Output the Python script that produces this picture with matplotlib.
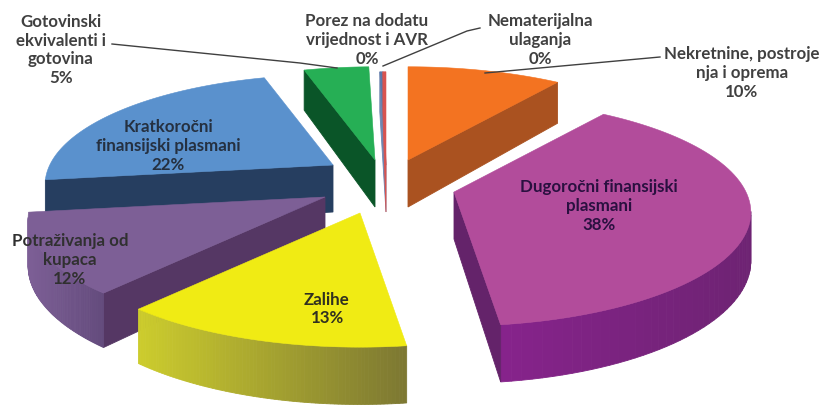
"""
Exploded 3D pie of asset structure, drawn by hand with polygons
(matplotlib has no real 3D pie).
"""

import numpy as np
import matplotlib
matplotlib.use("Agg")
import matplotlib.pyplot as plt
from matplotlib.patches import Polygon

# data, clockwise from 12 o'clock. the two 0% items still show up as slivers
labels = [
    "Nekretnine, postroje\nnja i oprema",
    "Dugoročni finansijski\nplasmani",
    "Zalihe",
    "Potraživanja od\nkupaca",
    "Kratkoročni\nfinansijski plasmani",
    "Gotovinski\nekvivalenti i\ngotovina",
    "Porez na dodatu\nvrijednost i AVR",
    "Nematerijalna\nulaganja",
]
percent = [10, 38, 13, 12, 22, 5, 0, 0]
# unrounded shares as read from the slice edges
slice_sizes = [10, 38, 13.5, 11.5, 22.6, 4.2, 0.2, 0.2]

# styles
top_colors = ["#f37321", "#b24c9b", "#f0eb14", "#7d5f96", "#5a91cd", "#26af55", "#5a78aa", "#d9534f"]
cut_colors = ["#aa5220", "#64236a", "#7d7832", "#553764", "#263e60", "#0a5528", "#6f86b0", "#d9534f"]
arc_left = ["#aa5220", "#87238c", "#cdcd2d", "#7d5f96", "#263e60", "#0a5528", "#6f86b0", "#d9534f"]
arc_right = ["#aa5220", "#6e2373", "#7d7832", "#644b7d", "#263e60", "#0a5528", "#6f86b0", "#d9534f"]

# where each exploded slice has its tip, in pixels, and its radius factor
tips = [(408, 160), (454, 192), (360, 213), (325, 197), (333, 165), (375, 160), (386, 165), (386, 165)]
radius = [1, 1, 1, 1, 0.97, 1, 1, 1]
draw_order = [0, 5, 6, 7, 4, 3, 2, 1]

# projection of the disc
RX, RY, PERSP, DEPTH = 292, 110, 0.18, 47

# label placement: centre x, centre y, text colour
label_pos = [
    (742, 73, "#404040"), (599, 206, "#2a1040"), (327, 309, "#303020"), (70, 260, "#303030"),
    (168, 146, "#253040"), (61, 50, "#404040"), (367, 40, "#404040"), (540, 40, "#404040"),
]
leaders = [
    [(660, 57), (485, 73)],
    [(112, 44), (300, 63), (337, 68)],
    [(480, 28), (467, 31), (383, 66)],
]


def project(tip, theta, r):
    u, v = np.sin(theta), np.cos(theta)
    w = 1 + PERSP * v
    return tip[0] + r * RX * u / w, tip[1] - r * RY * v / w, DEPTH / w


def mix(c1, c2, t):
    a = np.array(matplotlib.colors.to_rgb(c1))
    b = np.array(matplotlib.colors.to_rgb(c2))
    return tuple(a + (b - a) * t)


fig = plt.figure(figsize=(8.25, 4.07), dpi=100)
ax = fig.add_axes([0, 0, 1, 1])
ax.set_xlim(0, 825)
ax.set_ylim(407, 0)
ax.axis("off")

edges = np.cumsum([0] + slice_sizes) / sum(slice_sizes) * 2 * np.pi

for i in draw_order:
    tip = tips[i]
    thetas = np.linspace(edges[i], edges[i + 1], 80)
    pts = [project(tip, t, radius[i]) for t in thetas]
    poly = [(tip[0], tip[1], DEPTH)] + pts
    xs = [p[0] for p in pts]
    n = len(poly)
    for k in range(n):
        p, q = poly[k], poly[(k + 1) % n]
        # only edges running leftwards face the viewer
        if q[0] >= p[0]:
            continue
        if k == 0 or k == n - 1:
            col = cut_colors[i]
        else:
            span = max(max(xs) - min(xs), 1)
            col = mix(arc_left[i], arc_right[i], (p[0] - min(xs)) / span)
        quad = [(p[0], p[1]), (q[0], q[1]), (q[0], q[1] + q[2]), (p[0], p[1] + p[2])]
        ax.add_patch(Polygon(quad, closed=True, facecolor=col, edgecolor=col, lw=0.6))
    ax.add_patch(Polygon([(p[0], p[1]) for p in poly], closed=True,
                         facecolor=top_colors[i], edgecolor=top_colors[i], lw=0.4))

for line in leaders:
    ax.plot([p[0] for p in line], [p[1] for p in line], color="#404040", lw=1.0)

for i, lab in enumerate(labels):
    x, y, col = label_pos[i]
    ax.text(x, y, f"{lab}\n{percent[i]}%", ha="center", va="center", ma="center",
            family="Lato", fontweight="bold", fontsize=12.2, color=col, linespacing=1.2)

fig.savefig("out.png", dpi=100)
